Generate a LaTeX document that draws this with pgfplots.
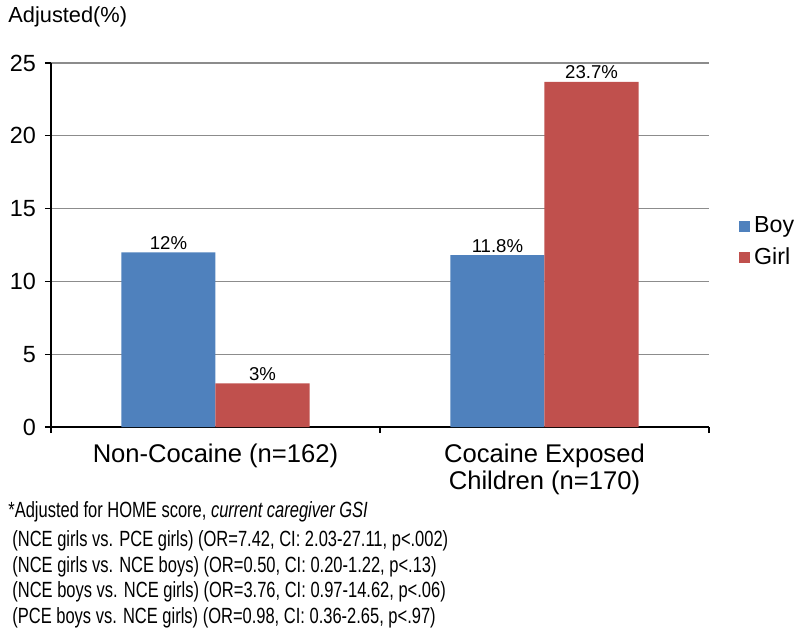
\documentclass[border=0pt]{standalone}
\usepackage{pgfplots}
\pgfplotsset{compat=1.18}
\usepackage{fontspec}
\setmainfont{Liberation Sans}
\newfontfamily\narrow[FakeStretch=0.75]{Liberation Sans}
\definecolor{boyblue}{HTML}{4F81BD}
\definecolor{girlred}{HTML}{C0504D}
\definecolor{gridgray}{HTML}{8C8C8C}
\begin{document}
\begin{tikzpicture}
\useasboundingbox (0,0) rectangle (400pt,319.5pt);
\begin{axis}[
  at={(25.5pt,106pt)}, anchor=south west,
  width=329pt, height=182pt, scale only axis,
  xmin=-0.5, xmax=1.5, ymin=0, ymax=25,
  ybar=0pt, bar width=0.286,
  axis x line*=bottom, axis y line*=left,
  axis line style={black, line width=0.6pt},
  xtick={0,1}, major x tick style={draw=none},
  xticklabels={Non-Cocaine (n=162), {Cocaine Exposed\\Children (n=170)}},
  minor xtick={-0.5,0.5,1.5},
  minor x tick style={black, line width=0.6pt},
  ytick={0,5,10,15,20,25},
  tick align=outside, major tick length=3pt, minor tick length=3pt,
  y tick style={black, line width=0.6pt},
  ymajorgrids, grid style={gridgray, line width=0.6pt},
  /pgf/number format/assume math mode=true,
  yticklabel style={font=\fontsize{11.7}{13}\selectfont, xshift=-1pt},
  xticklabel style={font=\fontsize{12.8}{13.5}\selectfont, align=center, yshift=-2pt},
  point meta=explicit symbolic,
  nodes near coords,
  nodes near coords style={font=\fontsize{9.3}{10}\selectfont, inner sep=1.2pt},
  legend style={at={(1,0.508)}, anchor=west, xshift=12pt, draw=none, fill=none,
    font=\fontsize{11.6}{12}\selectfont, row sep=2pt,
    /tikz/every even column/.append style={column sep=0pt}},
  legend cell align=left,
  legend image code/.code={\fill[#1,draw=none] (0pt,-2.7pt) rectangle (5.4pt,2.7pt);},
  clip=false,
]
\addplot[fill=boyblue, draw=none] coordinates {(0,12) [12\%] (1,11.8) [11.8\%]};
\addplot[fill=girlred, draw=none] coordinates {(0,3) [3\%] (1,23.7) [23.7\%]};
\legend{Boy, Girl}
\end{axis}
\node[anchor=base west, inner sep=0pt, font=\fontsize{10.9}{12}\selectfont] at (4pt,308pt) {Adjusted(\%)};
\begin{scope}[every node/.style={anchor=base west, inner sep=0pt, font=\narrow\fontsize{11}{12}\selectfont}]
\node at (4pt,60.5pt) {*Adjusted for HOME score, \textit{current caregiver GSI}};
\node at (6pt,46pt) {(NCE girls vs. PCE girls) (OR=7.42, CI: 2.03-27.11, p<.002)};
\node at (6pt,33.25pt) {(NCE girls vs. NCE boys) (OR=0.50, CI: 0.20-1.22, p<.13)};
\node at (6pt,20.5pt) {(NCE boys vs. NCE girls) (OR=3.76, CI: 0.97-14.62, p<.06)};
\node at (6pt,8pt) {(PCE boys vs. NCE girls) (OR=0.98, CI: 0.36-2.65, p<.97)};
\end{scope}
\end{tikzpicture}
\end{document}
